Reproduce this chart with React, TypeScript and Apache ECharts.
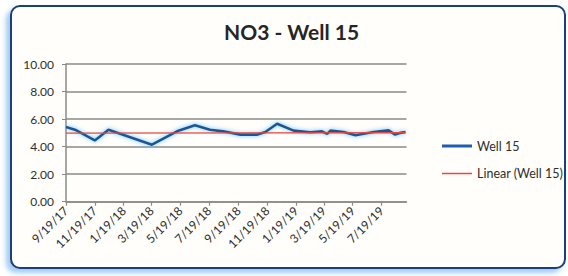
import React, { useEffect, useRef } from "react";
import * as echarts from "echarts";

const TITLE = "NO3 - Well 15";
const SERIES_NAME = "Well 15";
const TREND_NAME = "Linear (Well 15)";

const sampleDates = [
  "2017-09-19", "2017-10-08", "2017-11-19", "2017-12-18", "2018-03-20",
  "2018-05-15", "2018-06-19", "2018-07-21", "2018-08-18", "2018-09-23",
  "2018-10-28", "2018-11-15", "2018-12-10", "2019-01-14", "2019-02-18",
  "2019-03-15", "2019-03-26", "2019-04-02", "2019-04-30", "2019-05-25",
  "2019-07-02", "2019-08-03", "2019-08-17", "2019-08-28", "2019-09-08",
];
const no3Values = [
  5.42, 5.23, 4.45, 5.23, 4.14,
  5.16, 5.55, 5.23, 5.11, 4.87,
  4.87, 5.06, 5.66, 5.16, 5.04,
  5.11, 4.92, 5.16, 5.06, 4.82,
  5.06, 5.18, 4.87, 5.0, 5.06,
];
const trendValues = [4.98, 5.01];

const axisStart = "2017-09-19";
const axisEnd = "2019-09-10";
const yTicks = [0, 2, 4, 6, 8, 10];

function buildDays(start: string, end: string): string[] {
  const out: string[] = [];
  const d = new Date(start + "T00:00:00Z");
  const e = new Date(end + "T00:00:00Z");
  while (d.getTime() <= e.getTime()) {
    out.push(d.toISOString().slice(0, 10));
    d.setUTCDate(d.getUTCDate() + 1);
  }
  return out;
}

const isMajor = (_i: number, v: string) => {
  const parts = v.split("-");
  return parts[2] === "19" && Number(parts[1]) % 2 === 1;
};

const fmtDate = (v: string) => {
  const [y, m, d] = v.split("-");
  return `${Number(m)}/${Number(d)}/${y.slice(2)}`;
};

const BLUE = "#1f5597";
const RED = "#e8473d";

export default function App() {
  const ref = useRef<HTMLDivElement>(null);
  useEffect(() => {
    if (!ref.current) return;
    const chart = echarts.init(ref.current, undefined, { renderer: "svg" });
    const days = buildDays(axisStart, axisEnd);
    const lineData = sampleDates.map((d, i) => [d, no3Values[i]]);
    const trendData = [
      [sampleDates[0], trendValues[0]],
      [sampleDates[sampleDates.length - 1], trendValues[1]],
    ];
    const legendText = { fontFamily: "Lato", fontSize: 12.5, color: "#2e2e2e" };
    chart.setOption({
      animation: false,
      textStyle: { fontFamily: "Lato" },
      title: {
        text: TITLE,
        left: 219,
        top: 16,
        textStyle: { fontFamily: "Lato", fontWeight: "bold", fontSize: 21, color: "#262626" },
      },
      legend: [
        {
          orient: "vertical",
          left: 437,
          top: 134.5,
          icon: "rect",
          itemWidth: 30,
          itemHeight: 3,
          textStyle: legendText,
          data: [SERIES_NAME],
        },
        {
          orient: "vertical",
          left: 437,
          top: 162,
          icon: "rect",
          itemWidth: 30,
          itemHeight: 1.5,
          textStyle: legendText,
          data: [TREND_NAME],
        },
      ],
      grid: { left: 66, right: 161.5, top: 64, bottom: 74.3, containLabel: false },
      xAxis: {
        type: "category",
        data: days,
        boundaryGap: false,
        axisLine: { lineStyle: { color: "#8a8a8a", width: 1.5 } },
        axisTick: { interval: isMajor, length: 4, lineStyle: { color: "#8a8a8a", width: 1.2 } },
        axisLabel: {
          interval: isMajor,
          rotate: 45,
          margin: 7,
          formatter: fmtDate,
          fontFamily: "Lato",
          fontSize: 12,
          color: "#2e2e2e",
        },
        splitLine: { show: false },
      },
      yAxis: {
        type: "value",
        min: yTicks[0],
        max: yTicks[yTicks.length - 1],
        interval: 2,
        axisLine: { show: true, lineStyle: { color: "#8a8a8a", width: 1.5 } },
        axisTick: { show: true, length: 4, lineStyle: { color: "#8a8a8a" } },
        axisLabel: {
          formatter: (v: number) => v.toFixed(2),
          margin: 12,
          fontFamily: "Lato",
          fontSize: 12,
          color: "#2e2e2e",
        },
        splitLine: { lineStyle: { color: "#8a8a8a", width: 1.5 } },
      },
      series: [
        {
          name: SERIES_NAME,
          type: "line",
          data: lineData,
          symbol: "none",
          z: 2,
          lineStyle: {
            color: BLUE,
            width: 2.6,
            shadowColor: "rgba(80,185,245,0.9)",
            shadowBlur: 4,
          },
          itemStyle: { color: "#1f5fae" },
        },
        {
          name: TREND_NAME,
          type: "line",
          data: trendData,
          symbol: "none",
          z: 3,
          lineStyle: { color: RED, width: 1.4 },
          itemStyle: { color: RED },
        },
      ],
    });
    return () => chart.dispose();
  }, []);

  return (
    <div style={{ position: "fixed", left: 0, top: 0, width: 568, height: 276, background: "#ffffff", overflow: "hidden" }}>
      <div
        style={{
          position: "absolute",
          left: 10,
          top: 5,
          width: 556,
          height: 264,
          boxSizing: "border-box",
          border: "2.5px solid #1c3f78",
          borderRadius: 10,
          background: "#fffefb",
          boxShadow: "-4px 4px 5px rgba(130,185,235,0.75)",
        }}
      />
      <div ref={ref} style={{ position: "absolute", left: 0, top: 0, width: 568, height: 276 }} />
    </div>
  );
}
